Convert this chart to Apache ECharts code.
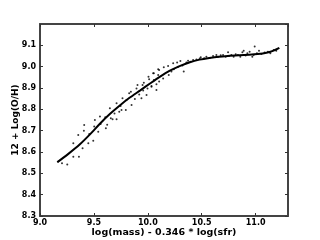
<!DOCTYPE html>
<html>
<head>
<meta charset="utf-8">
<style>html,body{margin:0;padding:0;background:#fff;}#c{width:320px;height:240px;}</style>
<script src="https://cdn.jsdelivr.net/npm/echarts@6/dist/echarts.min.js"></script>
</head>
<body>
<div id="c"></div>
<script>
const scatterX = [9.170,9.204,9.253,9.309,9.361,9.309,9.355,9.395,9.407,9.410,9.448,9.457,9.494,9.509,9.503,9.540,9.556,9.562,9.605,9.611,9.623,9.648,9.657,9.673,9.691,9.710,9.710,9.735,9.747,9.756,9.765,9.796,9.802,9.827,9.843,9.849,9.880,9.895,9.904,9.920,9.941,9.951,9.957,9.963,9.988,9.997,10.006,10.012,10.034,10.049,10.056,10.080,10.096,10.105,
10.034,10.080,10.105,10.056,10.096,10.142,10.148,10.188,10.194,10.219,10.235,10.241,10.272,10.281,10.302,10.321,10.333,10.358,10.373,10.395,10.420,10.451,10.481,10.491,10.522,10.543,10.574,10.605,10.636,10.651,10.676,10.698,10.722,10.744,10.753,10.775,10.796,10.815,10.836,10.858,10.877,10.889,10.907,10.923,10.944,10.969,10.981,10.991,11.012,11.031,11.053,11.083,11.114,11.136,11.167,11.191];
const scatterY = [8.555,8.547,8.541,8.578,8.578,8.641,8.680,8.617,8.700,8.727,8.641,8.684,8.653,8.750,8.719,8.695,8.766,8.731,8.763,8.711,8.728,8.805,8.758,8.753,8.781,8.753,8.828,8.789,8.816,8.797,8.852,8.797,8.844,8.875,8.883,8.820,8.848,8.898,8.914,8.870,8.852,8.914,8.888,8.925,8.867,8.898,8.953,8.941,8.909,8.969,8.938,8.891,8.961,8.984,
8.906,8.917,8.930,8.969,8.988,8.945,8.997,9.003,8.961,8.977,9.016,8.988,9.020,9.000,9.027,9.006,8.977,9.020,9.028,9.023,9.031,9.034,9.038,9.044,9.039,9.047,9.041,9.050,9.055,9.047,9.053,9.055,9.047,9.067,9.050,9.055,9.047,9.058,9.055,9.047,9.067,9.075,9.052,9.063,9.070,9.047,9.055,9.094,9.063,9.075,9.059,9.066,9.070,9.063,9.078,9.075];
const fitX = [9.16,9.26,9.37,9.47,9.56,9.65,9.74,9.83,9.93,10.02,10.11,10.20,10.30,10.39,10.48,10.57,10.66,10.76,10.85,10.94,11.02,11.10,11.16,11.22];
const fitY = [8.552,8.590,8.636,8.686,8.735,8.779,8.818,8.854,8.889,8.921,8.952,8.980,9.004,9.021,9.033,9.041,9.047,9.051,9.054,9.056,9.059,9.065,9.074,9.088];
const xTitle = 'log(mass) - 0.346 * log(sfr)';
const yTitle = '12 + Log(O/H)';

const chart = echarts.init(document.getElementById('c'));
const font = 'DejaVu Sans';
const lineStyle = {color:'#444', width:2};
const baseX = {type:'value', min:9.0, max:11.3, interval:0.5,
  axisLine:{show:true, onZero:false, lineStyle},
  axisTick:{show:true, inside:true, length:3, lineStyle:{color:'#333', width:1}},
  splitLine:{show:false}};
const baseY = {type:'value', min:8.3, max:9.2, interval:0.1,
  axisLine:{show:true, onZero:false, lineStyle},
  axisTick:{show:true, inside:true, length:3, lineStyle:{color:'#333', width:1}},
  splitLine:{show:false}};
chart.setOption({
  animation:false,
  grid:{left:40, right:32, top:24, bottom:24, containLabel:false, outerBoundsMode:'none'},
  xAxis:[
    Object.assign({}, baseX, {position:'bottom', name:xTitle, nameLocation:'middle', nameGap:12, nameMoveOverlap:false,
      nameTextStyle:{fontFamily:font, fontWeight:'bold', fontSize:9.5, color:'#000'},
      axisLabel:{fontFamily:font, fontWeight:'bold', fontSize:8, color:'#000', margin:3, showMaxLabel:false,
        formatter:v=>v.toFixed(1)}}),
    Object.assign({}, baseX, {position:'top', axisLabel:{show:false}})
  ],
  yAxis:[
    Object.assign({}, baseY, {position:'left', name:yTitle, nameLocation:'middle', nameGap:20, nameMoveOverlap:false,
      nameTextStyle:{fontFamily:font, fontWeight:'bold', fontSize:9, color:'#000'},
      axisLabel:{fontFamily:font, fontWeight:'bold', fontSize:8, color:'#000', margin:4, showMaxLabel:false,
        formatter:v=>v.toFixed(1)}}),
    Object.assign({}, baseY, {position:'right', axisLabel:{show:false}})
  ],
  series:[
    {type:'scatter', xAxisIndex:0, yAxisIndex:0, symbolSize:2,
      itemStyle:{color:'#000'}, data:scatterX.map((x,i)=>[x, scatterY[i]])},
    {type:'line', xAxisIndex:0, yAxisIndex:0, smooth:0.3, showSymbol:false,
      lineStyle:{color:'#000', width:2}, data:fitX.map((x,i)=>[x, fitY[i]])}
  ]
});
</script>
</body>
</html>
